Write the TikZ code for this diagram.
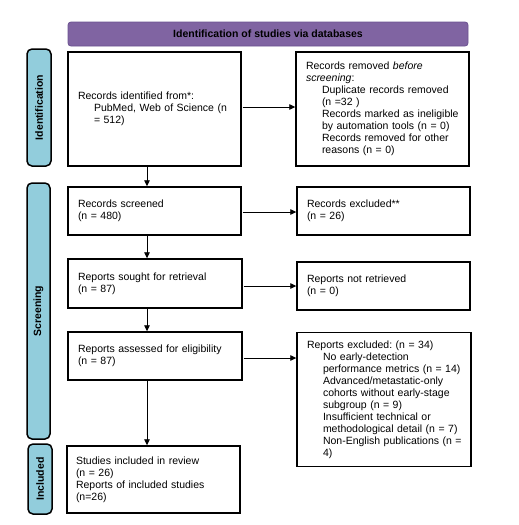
\documentclass[tikz,border=0pt]{standalone}
\usepackage{fontspec}
\setmainfont{Liberation Sans}
\usetikzlibrary{arrows.meta,calc}
\definecolor{hdrfill}{HTML}{8064A2}
\definecolor{hdrline}{HTML}{6A5190}
\definecolor{sidefill}{HTML}{92CDDC}
\newcommand{\indln}{\hspace*{16pt}}
\frenchspacing
\begin{document}
\begin{tikzpicture}[x=1pt,y=-1pt,
  every node/.style={font=\fontsize{10.5}{12}\selectfont},
  flowbox/.style={draw=black,line width=1.4pt,rectangle,align=left,inner xsep=10pt,inner ysep=2pt},
  sidebar/.style={draw=black,line width=1.5pt,fill=sidefill,rounded corners=5pt},
  sidelabel/.style={rotate=90,font=\fontsize{10.5}{12}\selectfont\bfseries},
  arr/.style={line width=0.8pt,-{Triangle[length=6pt,width=5.5pt]}}]
\useasboundingbox (0,0) rectangle (519,525);
% header
\node[draw=hdrline,line width=0.8pt,fill=hdrfill,rounded corners=3pt,minimum width=400pt,minimum height=24pt,font=\fontsize{10.5}{12}\selectfont\bfseries] (hdr) at (268,34) {Identification of studies via databases};
% side bars
\draw[sidebar] (27,49) rectangle (51,166);
\node[sidelabel] (lid) at (39,107.5) {Identification};
\draw[sidebar] (27,183) rectangle (50,439);
\node[sidelabel] (lsc) at (38.5,311) {Screening};
\draw[sidebar] (28,444) rectangle (52,514);
\node[sidelabel] (lin) at (40,479) {Included};
% boxes
\node[flowbox,minimum width=173pt,minimum height=114pt,text width=153pt] (b1) at (154.5,109) {Records identified from*:\\\indln PubMed, Web of Science (n\\\indln = 512)\\[10pt]};
\node[flowbox,minimum width=173pt,minimum height=114pt,text width=153pt] (rm) at (382.5,109) {Records removed \textit{before}\\\textit{screening}:\\\indln Duplicate records removed\\\indln (n =32 )\\\indln Records marked as ineligible\\\indln by automation tools (n = 0)\\\indln Records removed for other\\\indln reasons (n = 0)};
\node[flowbox,minimum width=173pt,minimum height=48pt,text width=153pt] (scr) at (154.5,211) {Records screened\\(n = 480)};
\node[flowbox,minimum width=173pt,minimum height=48pt,text width=153pt] (exc) at (383.5,211) {Records excluded**\\(n = 26)};
\node[flowbox,minimum width=174pt,minimum height=49pt,text width=154pt] (sgt) at (155,283.5) {Reports sought for retrieval\\(n = 87)};
\node[flowbox,minimum width=173pt,minimum height=48pt,text width=153pt] (nrt) at (383.5,286) {Reports not retrieved\\(n = 0)};
\node[flowbox,minimum width=174pt,minimum height=48pt,text width=154pt] (ass) at (155,356) {Reports assessed for eligibility\\(n = 87)};
\node[flowbox,minimum width=174pt,minimum height=134pt,text width=154pt,anchor=north] (rex) at (384,332) {Reports excluded: (n = 34)\\\indln \mbox{No early-detection}\\\indln \mbox{performance metrics (n = 14)}\\\indln \mbox{Advanced/metastatic-only}\\\indln \mbox{cohorts without early-stage}\\\indln \mbox{subgroup (n = 9)}\\\indln \mbox{Insufficient technical or}\\\indln \mbox{methodological detail (n = 7)}\\\indln \mbox{Non-English publications (n =}\\\indln 4)};
\node[flowbox,minimum width=173pt,minimum height=67pt,text width=155pt,inner xsep=9pt] (inc) at (153.5,479.5) {Studies included in review\\(n = 26)\\Reports of included studies\\(n=26)};
% connectors
\coordinate (axis) at (147,0);
\draw[arr] (b1.south -| axis) -- (scr.north -| axis);
\draw[arr] (scr.south -| axis) -- (sgt.north -| axis);
\draw[arr] (sgt.south -| axis) -- (ass.north -| axis);
\draw[arr] (ass.south -| axis) -- (inc.north -| axis);
\draw[arr] ($(b1.east)+(1,-2)$) -- ($(rm.west)+(0,-2)$);
\draw[arr] ($(scr.east)+(1,1)$) -- ($(exc.west)+(0,1)$);
\draw[arr] ($(sgt.east)+(1,2.5)$) -- (nrt.west);
\draw[arr] ($(ass.east)+(1,2)$) -- (rex.west |- 0,358);
\end{tikzpicture}
\end{document}
